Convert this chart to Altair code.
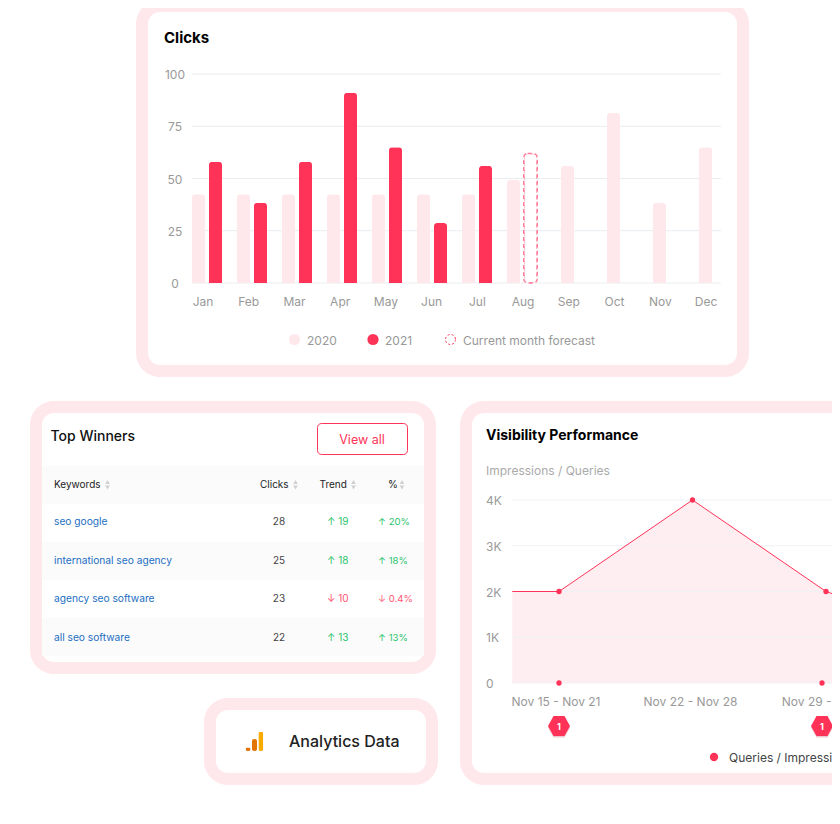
import altair as alt
import pandas as pd

FONT = "Inter"
RED = "#FF3358"
PINK = "#FFE8EC"
GRID = "#E9EDF1"
GREY = "#999999"

# Clicks chart
months = ["Jan","Feb","Mar","Apr","May","Jun","Jul","Aug","Sep","Oct","Nov","Dec"]
clicks_2020_first = [42.5,42.5,42.5,42.5,42.5,42.5,42.5,49.3]
clicks_2020_rest = [56,81.3,38.3,65]
clicks_2021 = [58,38.3,58,91,65,28.7,56]
forecast_aug = [62]
clicks_ticks = [0,25,50,75,100]

# Table
keywords = ["seo google","international seo agency","agency seo software","all seo software"]
table_clicks = [28,25,23,22]
table_trend = ["↑ 19","↑ 18","↓ 10","↑ 13"]
table_pct = ["↑ 20%","↑ 18%","↓ 0.4%","↑ 13%"]
table_dir = ["up","up","down","up"]

# Visibility
week_index = [-0.35,0,1,2,3]
week_values = [2000,2000,4000,2000,1000]
week_points = [0,1,2]
week_point_values = [2000,4000,2000]
week_labels = ["Nov 15 - Nov 21","Nov 22 - Nov 28","Nov 29 - Dec 5"]
query_weeks = [0,1]
query_values = [0,0]
badge_text = ["1","1"]
vis_ticks = [0,1000,2000,3000,4000]
vis_tick_labels = ["0","1K","2K","3K","4K"]

# Analytics icon
icon_names = ["a","b","c"]
icon_values = [3.5,12,19.5]

X = lambda v: v - 8
Y = lambda v: v - 8
ONE = alt.Data(values=[{}])


def box(x0, y0, x1, y1, color, radius=0, stroke=None, sw=1):
    kw = dict(fill=color, cornerRadius=radius)
    if stroke:
        kw.update(stroke=stroke, strokeWidth=sw)
    return alt.Chart(ONE).mark_rect(**kw).encode(
        x=alt.value(X(x0)), x2=alt.value(X(x1)), y=alt.value(Y(y0)), y2=alt.value(Y(y1)))


def label(s, x, y, size=12, color=GREY, weight=400, align="left"):
    return alt.Chart(ONE).mark_text(text=s, font=FONT, fontSize=size, color=color, fontWeight=weight,
                                    align=align, baseline="middle", dy=1).encode(
        x=alt.value(X(x)), y=alt.value(Y(y)))


def card(x0, y0, x1, y1):
    return [box(x0, y0, x1, y1, PINK, 24), box(x0 + 12, y0 + 12, x1 - 12, y1 - 12, "#FFFFFF", 12)]


layers = []
layers += card(136, 0, 749, 377)
layers += card(30, 401, 436, 674)
layers += card(460, 401, 920, 785)
layers += card(204, 698, 438, 785)

# ---------- Clicks
cy = alt.Scale(domain=[0, 100], range=[Y(283), Y(74)], nice=False)
layers.append(label("Clicks", 164, 37, 15, "#000000", 700))
grid_df = pd.DataFrame({"v": clicks_ticks})
layers.append(alt.Chart(grid_df).mark_rule(color=GRID, strokeWidth=1).encode(
    y=alt.Y("v:Q", scale=cy, axis=None), x=alt.value(X(192)), x2=alt.value(X(721))))
layers.append(alt.Chart(grid_df).mark_text(font=FONT, fontSize=12, color=GREY, align="center", baseline="middle", dy=1).encode(
    y=alt.Y("v:Q", scale=cy, axis=None), x=alt.value(X(175)), text="v:N"))

bx1 = alt.Scale(type="band", domain=months[:8], range=[X(192), X(552)])
bx2 = alt.Scale(type="band", domain=months[8:], range=[X(544.5), X(728.5)])
lx = alt.Scale(type="point", domain=months, range=[X(203), X(706)], padding=0)
rad = dict(cornerRadiusTopLeft=3, cornerRadiusTopRight=3)
layers.append(alt.Chart(pd.DataFrame({"m": months[:8], "v": clicks_2020_first})).mark_bar(
    width=13, xOffset=-16, color=PINK, **rad).encode(
    x=alt.X("m:N", scale=bx1, axis=None), y=alt.Y("v:Q", scale=cy, axis=None)))
layers.append(alt.Chart(pd.DataFrame({"m": months[:7], "v": clicks_2021})).mark_bar(
    width=13, xOffset=1, color=RED, **rad).encode(
    x=alt.X("m:N", scale=bx1, axis=None), y=alt.Y("v:Q", scale=cy, axis=None)))
layers.append(alt.Chart(pd.DataFrame({"m": months[8:], "v": clicks_2020_rest})).mark_bar(
    width=13, color=PINK, **rad).encode(
    x=alt.X("m:N", scale=bx2, axis=None), y=alt.Y("v:Q", scale=cy, axis=None)))
layers.append(alt.Chart(pd.DataFrame({"m": ["Aug"], "v": forecast_aug})).mark_bar(
    width=13.5, xOffset=1, fill="#FFFFFF", fillOpacity=0, stroke="#FF7F9B", strokeWidth=1.5,
    strokeDash=[4, 3], cornerRadius=4).encode(
    x=alt.X("m:N", scale=bx1, axis=None), y=alt.Y("v:Q", scale=cy, axis=None)))
layers.append(alt.Chart(pd.DataFrame({"m": months})).mark_text(
    font=FONT, fontSize=12, color=GREY, align="center", baseline="middle", dy=1).encode(
    x=alt.X("m:N", scale=lx, axis=None), y=alt.value(Y(301)), text="m:N"))

for cxp, fill in [(294.5, PINK), (373, RED)]:
    layers.append(alt.Chart(ONE).mark_circle(size=125, color=fill, opacity=1).encode(
        x=alt.value(X(cxp)), y=alt.value(Y(339.5))))
layers.append(alt.Chart(ONE).mark_point(size=100, fill="#FFFFFF", stroke=RED, strokeWidth=1,
                                        strokeDash=[2, 2], filled=False, opacity=1).encode(
    x=alt.value(X(450.5)), y=alt.value(Y(339.5))))
layers.append(label("2020", 307, 339.5, 12))
layers.append(label("2021", 385, 339.5, 12))
layers.append(label("Current month forecast", 463, 339.5, 12))

# ---------- Table
layers.append(label("Top Winners", 50.5, 436, 14, "#111111", 500))
layers.append(box(317.5, 423.5, 407.5, 454.5, "#FFFFFF", 4, RED, 1))
layers.append(label("View all", 362, 438.5, 12.5, RED, 400, "center"))
layers.append(box(42, 466, 424, 504, "#FBFBFC"))
layers.append(box(42, 542, 424, 580, "#FBFBFC"))
layers.append(box(42, 618, 424, 656, "#FBFBFC"))
for s, x in [("Keywords", 54), ("Clicks", 260), ("Trend", 319.5), ("%", 388)]:
    layers.append(label(s, x, 484, 10, "#222222"))
for x in [107.5, 295.5, 353.5, 402]:
    layers.append(alt.Chart(ONE).mark_point(shape="triangle-up", size=22, filled=True, color="#D0D0D0", opacity=1).encode(
        x=alt.value(X(x)), y=alt.value(Y(482))))
    layers.append(alt.Chart(ONE).mark_point(shape="triangle-down", size=22, filled=True, color="#D0D0D0", opacity=1).encode(
        x=alt.value(X(x)), y=alt.value(Y(487.5))))
ty = alt.Scale(type="point", domain=keywords, range=[Y(521), Y(637)], padding=0)
tdf = pd.DataFrame({"k": keywords, "c": table_clicks, "t": table_trend, "p": table_pct, "d": table_dir})
dcol = alt.Scale(domain=["up", "down"], range=["#2BC46C", "#FF5570"])
layers.append(alt.Chart(tdf).mark_text(font=FONT, fontSize=10.2, color="#1B6EC2", align="left", baseline="middle", dy=1).encode(
    x=alt.value(X(54)), y=alt.Y("k:N", scale=ty, axis=None), text="k:N"))
layers.append(alt.Chart(tdf).mark_text(font=FONT, fontSize=10, color="#444444", align="center", baseline="middle", dy=1).encode(
    x=alt.value(X(279)), y=alt.Y("k:N", scale=ty, axis=None), text="c:N"))
layers.append(alt.Chart(tdf).mark_text(font=FONT, fontSize=10, align="left", baseline="middle", dy=1).encode(
    x=alt.value(X(327)), y=alt.Y("k:N", scale=ty, axis=None), text="t:N",
    color=alt.Color("d:N", scale=dcol, legend=None)))
layers.append(alt.Chart(tdf).mark_text(font=FONT, fontSize=9.6, align="left", baseline="middle", dy=1).encode(
    x=alt.value(X(378)), y=alt.Y("k:N", scale=ty, axis=None), text="p:N",
    color=alt.Color("d:N", scale=dcol, legend=None)))

# ---------- Analytics
ix = alt.Scale(type="band", domain=icon_names, range=[X(245), X(264)], padding=0)
iy = alt.Scale(domain=[0, 19.5], range=[Y(751), Y(731.7)], nice=False)
icol = alt.Scale(domain=icon_names, range=["#E37400", "#E37400", "#F9AB00"])
layers.append(alt.Chart(pd.DataFrame({"n": icon_names, "v": icon_values})).mark_bar(width=5, cornerRadius=2).encode(
    x=alt.X("n:N", scale=ix, axis=None), y=alt.Y("v:Q", scale=iy, axis=None),
    color=alt.Color("n:N", scale=icol, legend=None)))
layers.append(label("Analytics Data", 289, 741, 16, "#222222", 500))

# ---------- Visibility
vy = alt.Scale(domain=[0, 4000], range=[Y(683), Y(500)], nice=False)
vx = alt.Scale(domain=[0, 3], range=[X(559), X(959.5)], zero=False, nice=False)
layers.append(label("Visibility Performance", 486, 435, 14, "#000000", 700))
layers.append(label("Impressions / Queries", 486, 470, 12, "#AAAAAA"))
vdf = pd.DataFrame({"w": week_index, "v": week_values})
layers.append(alt.Chart(vdf).mark_area(color="#FEEEF1", opacity=1).encode(
    x=alt.X("w:Q", scale=vx, axis=None), y=alt.Y("v:Q", scale=vy, axis=None)))
tdfv = pd.DataFrame({"v": vis_ticks, "l": vis_tick_labels})
layers.append(alt.Chart(tdfv).mark_rule(color="#F0F1F4", strokeWidth=1).encode(
    y=alt.Y("v:Q", scale=vy, axis=None), x=alt.value(X(512)), x2=alt.value(X(840))))
layers.append(alt.Chart(tdfv).mark_text(font=FONT, fontSize=12, color=GREY, align="left", baseline="middle", dy=1).encode(
    y=alt.Y("v:Q", scale=vy, axis=None), x=alt.value(X(486)), text="l:N"))
layers.append(alt.Chart(vdf).mark_line(color=RED, strokeWidth=1).encode(
    x=alt.X("w:Q", scale=vx, axis=None), y=alt.Y("v:Q", scale=vy, axis=None)))
layers.append(alt.Chart(pd.DataFrame({"w": week_points, "v": week_point_values})).mark_circle(size=28, color=RED, opacity=1).encode(
    x=alt.X("w:Q", scale=vx, axis=None), y=alt.Y("v:Q", scale=vy, axis=None)))
wx = alt.Scale(type="point", domain=week_labels, range=[X(556), X(825)], padding=0)
layers.append(alt.Chart(pd.DataFrame({"l": week_labels})).mark_text(
    font=FONT, fontSize=12, color=GREY, align="center", baseline="middle", dy=1).encode(
    x=alt.X("l:N", scale=wx, axis=None), y=alt.value(Y(701)), text="l:N"))
qx = alt.Scale(domain=[0, 1], range=[X(559), X(822)], nice=False)
qdf = pd.DataFrame({"w": query_weeks, "v": query_values, "t": badge_text})
layers.append(alt.Chart(qdf).mark_circle(size=28, color=RED, opacity=1).encode(
    x=alt.X("w:Q", scale=qx, axis=None), y=alt.Y("v:Q", scale=vy, axis=None)))
HEX = "M-1,0L-0.5,-0.9L0.5,-0.9L1,0L0.5,0.9L-0.5,0.9Z"
layers.append(alt.Chart(qdf).mark_point(shape=HEX, size=484, filled=True, color="#B0203A", opacity=0.25).encode(
    x=alt.X("w:Q", scale=qx, axis=None), y=alt.value(Y(727.5))))
layers.append(alt.Chart(qdf).mark_point(shape=HEX, size=484, filled=True, color=RED, opacity=1).encode(
    x=alt.X("w:Q", scale=qx, axis=None), y=alt.value(Y(726))))
layers.append(alt.Chart(qdf).mark_text(font=FONT, fontSize=9, fontWeight=700, color="#FFFFFF", align="center", baseline="middle", dy=1).encode(
    x=alt.X("w:Q", scale=qx, axis=None), y=alt.value(Y(725.5)), text="t:N"))
layers.append(alt.Chart(ONE).mark_circle(size=70, color=RED, opacity=1).encode(
    x=alt.value(X(714)), y=alt.value(Y(757))))
layers.append(label("Queries / Impressions", 729, 757, 12, "#444444"))

chart = alt.layer(*layers).resolve_scale(x="independent", y="independent", color="independent").properties(
    width=824, height=800, padding=0, background="#FFFFFF",
    autosize=alt.AutoSizeParams(type="none")
).configure_view(stroke=None)

chart.save("out.html", embed_options={"renderer": "svg", "actions": False})
